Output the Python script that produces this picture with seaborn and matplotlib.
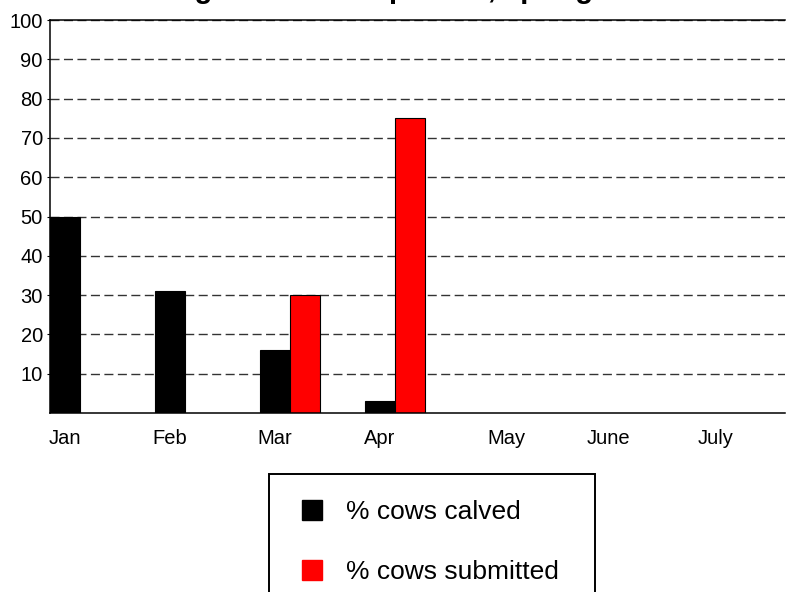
import matplotlib
matplotlib.use("Agg")
import matplotlib.pyplot as plt
from matplotlib.lines import Line2D
from matplotlib.patches import Rectangle
import seaborn as sns
import pandas as pd

# ---- data ----
months = ["Jan", "Feb", "Mar", "Apr", "May", "June", "July"]
series_names = ["% cows calved", "% cows submitted"]
calved_months = ["Jan", "Feb", "Mar", "Apr"]
calved_values = [50, 31, 16, 3]
submitted_months = ["Mar", "Apr"]
submitted_values = [30, 75]
y_ticks = [10, 20, 30, 40, 50, 60, 70, 80, 90, 100]
title_text = "Calving and service pattern, spring herd"

df = pd.concat([
    pd.DataFrame({"month": calved_months, "value": calved_values, "series": series_names[0]}),
    pd.DataFrame({"month": submitted_months, "value": submitted_values, "series": series_names[1]}),
], ignore_index=True)

colors = {series_names[0]: "#000000", series_names[1]: "#ff0000"}

sns.set_theme(style="white")
plt.rcParams["font.family"] = ["Liberation Sans", "DejaVu Sans"]
plt.rcParams["text.color"] = "black"

W, H = 786, 592
fig = plt.figure(figsize=(W / 100, H / 100), dpi=100)
ax = fig.add_axes([50 / W, 1 - 413 / H, (785 - 50) / W, 393 / H])

bar_w = 0.571
sns.barplot(data=df, x="month", y="value", hue="series", order=months,
            hue_order=series_names, palette=colors, width=bar_w, dodge=True,
            saturation=1, edgecolor="black", linewidth=0.8, legend=False, ax=ax)

half = bar_w / 2
ax.set_xlim(-half, len(months) - half)
ax.set_ylim(0, 100)
ax.set_yticks(y_ticks)
ax.set_yticklabels([str(t) for t in y_ticks])

# tick label placement (label centres relative to category index)
label_offsets = [-0.143, -0.143, -0.143, -0.143, 0.057, 0.03, 0.05]
ax.set_xticks([i + o for i, o in enumerate(label_offsets)])
ax.set_xticklabels(months)
ax.set_xlabel("")
ax.set_ylabel("")

ax.tick_params(axis="x", length=0, pad=11.5, labelsize=14.5, colors="black")
ax.tick_params(axis="y", length=2.2, width=0.8, pad=3, labelsize=14.5,
               colors="black", left=True, direction="out")

ax.set_axisbelow(True)
ax.yaxis.grid(True, linestyle=(0, (6.5, 3.2)), color="#333333", linewidth=1)
ax.xaxis.grid(False)

for side in ["left", "top", "bottom"]:
    ax.spines[side].set_visible(True)
    ax.spines[side].set_color("black")
    ax.spines[side].set_linewidth(1.1)
ax.spines["right"].set_visible(False)

# title (clipped at top of figure in the reference)
fig.text(386 / W, 1 + 2 / H, title_text, ha="center", va="baseline",
         fontsize=21, fontweight="bold", color="black")

# legend
handles = [Line2D([], [], marker="s", linestyle="none", markersize=14.4,
                  markerfacecolor=colors[s], markeredgecolor=colors[s])
           for s in series_names]
leg = fig.legend(handles, series_names, loc="upper left",
                 bbox_to_anchor=(292 / W, 1 - 500 / H), frameon=False, fontsize=19,
                 handlelength=1.5, handletextpad=0.53, labelspacing=1.38,
                 borderpad=0, borderaxespad=0, labelcolor="black")
fig.add_artist(Rectangle((269 / W, 1 - 630 / H), (595 - 269) / W, (630 - 474) / H,
                         transform=fig.transFigure, fill=False,
                         edgecolor="black", linewidth=1.4))

fig.savefig("out.png", dpi=100)
